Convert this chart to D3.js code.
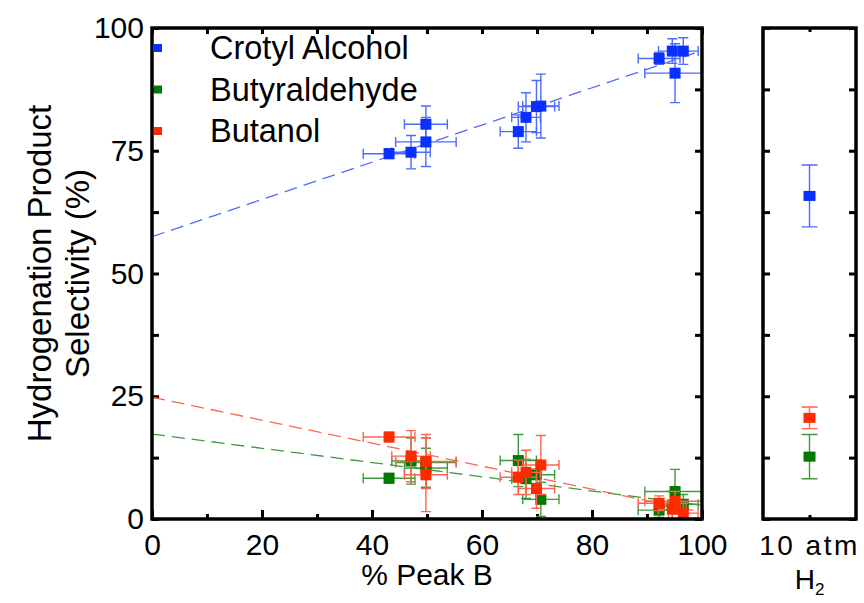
<!DOCTYPE html>
<html>
<head>
<meta charset="utf-8">
<script src="https://cdn.jsdelivr.net/npm/d3@7"></script>
<style>
  body { margin: 0; background: #fff; }
  svg { display: block; font-family: "Liberation Sans", Arial, sans-serif; }
</style>
</head>
<body>
<div id="chart"></div>
<script>
// % Peak B for each catalyst
const peakB    = [43.1, 47.1, 49.8, 49.8, 66.6, 68.0, 69.9, 70.7, 92.2, 94.6, 95.1, 96.6];
const peakBErr = [4.7, 3.5, 3.9, 5.5, 3.3, 2.6, 3.3, 3.3, 3.8, 2.5, 5.5, 2.7];

const crotyl    = [74.4, 74.7, 80.4, 76.8, 78.9, 81.8, 84.0, 84.1, 93.8, 95.3, 90.8, 95.3];
const crotylErr = [1.0, 3.4, 3.7, 5.0, 3.4, 5.0, 5.3, 6.5, 1.2, 2.5, 6.0, 2.7];
const butyr     = [8.3, 11.8, 10.4, 11.5, 11.9, 8.2, 9.0, 4.0, 1.8, 2.6, 5.6, 3.0];
const butyrErr  = [1.0, 4.7, 4.0, 5.0, 5.3, 4.0, 3.0, 3.5, 1.5, 3.0, 4.5, 2.0];
const butanol   = [16.7, 12.8, 9.0, 11.7, 8.5, 9.5, 6.2, 11.0, 3.2, 2.0, 3.6, 1.2];
const butanolErr= [1.0, 5.2, 7.5, 5.5, 3.5, 4.5, 4.0, 6.0, 1.5, 2.0, 2.0, 2.0];

// linear fits: value at 0 and 100 % Peak B
const fitX = [0, 100];
const crotylFit  = [57.5, 95.4];
const butyrFit   = [17.3, 2.8];
const butanolFit = [24.8, 1.4];

// 10 atm H2 panel
const atmLabel = "10 atm";
const atmCrotyl = [65.8, 6.3];
const atmButyr  = [12.7, 4.5];
const atmButanol= [20.6, 2.2];

const xTicks = [0, 20, 40, 60, 80, 100];
const xMinor = [10, 30, 50, 70, 90];
const yTicks = [0, 25, 50, 75, 100];
const yMinor = [12.5, 37.5, 62.5, 87.5];

const series = [
  { name: "Crotyl Alcohol", y: crotyl, err: crotylErr, fit: crotylFit, atm: atmCrotyl, color: "#0a30ff", light: "#4d6bff" },
  { name: "Butyraldehyde", y: butyr, err: butyrErr, fit: butyrFit, atm: atmButyr, color: "#007a00", light: "#3f9a3f" },
  { name: "Butanol", y: butanol, err: butanolErr, fit: butanolFit, atm: atmButanol, color: "#ff2a00", light: "#ff6450" }
];

const width = 864, height = 603;
const plot = { left: 152, right: 702, top: 28, bottom: 519 };
const panel = { left: 763, right: 856 };

const x = d3.scaleLinear().domain([0, 100]).range([plot.left, plot.right]);
const y = d3.scaleLinear().domain([0, 100]).range([plot.bottom, plot.top]);
const xr = d3.scalePoint().domain([atmLabel]).range([panel.left, panel.right]).padding(0.5);

const svg = d3.select("#chart").append("svg")
  .attr("width", width).attr("height", height);

svg.append("clipPath").attr("id", "clip")
  .append("rect")
  .attr("x", plot.left).attr("y", plot.top)
  .attr("width", plot.right - plot.left).attr("height", plot.bottom - plot.top);

function styleAxis(g) {
  g.select(".domain").remove();
  g.selectAll(".tick line").attr("stroke", "#000").attr("stroke-width", 3);
  g.selectAll(".tick text").attr("font-size", 30).attr("fill", "#000")
    .attr("font-family", "Liberation Sans, Arial, sans-serif");
}

// main plot axes (inward ticks on all four sides)
svg.append("g").attr("transform", `translate(0,${plot.bottom})`)
  .call(d3.axisBottom(x).tickValues(xTicks).tickSizeInner(-9).tickPadding(15))
  .call(styleAxis);
svg.append("g").attr("transform", `translate(0,${plot.bottom})`)
  .call(d3.axisBottom(x).tickValues(xMinor).tickSizeInner(-5).tickFormat(""))
  .call(styleAxis);
svg.append("g").attr("transform", `translate(0,${plot.top})`)
  .call(d3.axisTop(x).tickValues(xTicks.concat(xMinor)).tickSizeInner(-6).tickFormat(""))
  .call(styleAxis);
svg.append("g").attr("transform", `translate(${plot.left},0)`)
  .call(d3.axisLeft(y).tickValues(yTicks).tickSizeInner(-7).tickPadding(8))
  .call(styleAxis);
svg.append("g").attr("transform", `translate(${plot.left},0)`)
  .call(d3.axisLeft(y).tickValues(yMinor).tickSizeInner(-7).tickFormat(""))
  .call(styleAxis);
svg.append("g").attr("transform", `translate(${plot.right},0)`)
  .call(d3.axisRight(y).tickValues(yTicks.concat(yMinor)).tickSizeInner(-7).tickFormat(""))
  .call(styleAxis);

// fit lines
const fits = svg.append("g").attr("clip-path", "url(#clip)");
series.forEach(s => {
  fits.append("line")
    .attr("x1", x(fitX[0])).attr("y1", y(s.fit[0]))
    .attr("x2", x(fitX[1])).attr("y2", y(s.fit[1]))
    .attr("stroke", s.light).attr("stroke-width", 1.3)
    .attr("stroke-dasharray", "13,7");
});

// error bars + markers
const data = svg.append("g").attr("clip-path", "url(#clip)");
const cap = 5, half = 5.5;
series.forEach(s => {
  const pts = peakB.map((px, i) => ({ x: px, xe: peakBErr[i], y: s.y[i], ye: s.err[i] }));
  const g = data.append("g").attr("stroke", s.light).attr("stroke-width", 1.4).attr("fill", "none");
  pts.forEach(d => {
    const cx = x(d.x), cy = y(d.y);
    const x0 = x(d.x - d.xe), x1 = x(d.x + d.xe);
    const y0 = y(d.y - d.ye), y1 = y(d.y + d.ye);
    g.append("path").attr("d",
      `M${x0},${cy}H${x1}M${x0},${cy - cap}V${cy + cap}M${x1},${cy - cap}V${cy + cap}` +
      `M${cx},${y0}V${y1}M${cx - cap},${y0}H${cx + cap}M${cx - cap},${y1}H${cx + cap}`);
  });
  data.append("g").selectAll("rect").data(pts).join("rect")
    .attr("x", d => x(d.x) - half).attr("y", d => y(d.y) - half)
    .attr("width", half * 2).attr("height", half * 2)
    .attr("fill", s.color);
});

// frame
svg.append("rect")
  .attr("x", plot.left).attr("y", plot.top)
  .attr("width", plot.right - plot.left).attr("height", plot.bottom - plot.top)
  .attr("fill", "none").attr("stroke", "#000").attr("stroke-width", 3.5);

// legend
const legend = svg.append("g");
series.forEach((s, i) => {
  const ly = 48 + i * 41.5;
  legend.append("rect").attr("x", 154).attr("y", ly - 4).attr("width", 8).attr("height", 8).attr("fill", s.color);
  legend.append("text").attr("x", 210).attr("y", ly + 11)
    .attr("font-size", 32.5).text(s.name);
});

// axis titles
svg.append("text").attr("x", (plot.left + plot.right) / 2).attr("y", 585)
  .attr("text-anchor", "middle").attr("font-size", 30).text("% Peak B");
const yt = svg.append("text").attr("transform", `translate(0,${(plot.top + plot.bottom) / 2}) rotate(-90)`)
  .attr("text-anchor", "middle").attr("font-size", 33);
yt.append("tspan").attr("x", 0).attr("y", 51).text("Hydrogenation Product");
yt.append("tspan").attr("x", 0).attr("y", 89).text("Selectivity (%)");

// right panel
const rp = svg.append("g");
rp.append("g").attr("transform", `translate(${panel.left},0)`)
  .call(d3.axisLeft(y).tickValues(yTicks.concat(yMinor)).tickSizeInner(-7).tickFormat(""))
  .call(styleAxis);
rp.append("g").attr("transform", `translate(${panel.right},0)`)
  .call(d3.axisRight(y).tickValues(yTicks.concat(yMinor)).tickSizeInner(-7).tickFormat(""))
  .call(styleAxis);
rp.append("g").attr("transform", `translate(0,${plot.bottom})`)
  .call(d3.axisBottom(xr).tickSizeInner(-4).tickFormat(""))
  .call(styleAxis);
rp.append("g").attr("transform", `translate(0,${plot.top})`)
  .call(d3.axisTop(xr).tickSizeInner(-4).tickFormat(""))
  .call(styleAxis);

series.forEach(s => {
  const cx = xr(atmLabel), cy = y(s.atm[0]);
  const y0 = y(s.atm[0] - s.atm[1]), y1 = y(s.atm[0] + s.atm[1]);
  rp.append("path")
    .attr("d", `M${cx},${y0}V${y1}M${cx - 8},${y0}H${cx + 8}M${cx - 8},${y1}H${cx + 8}`)
    .attr("stroke", s.light).attr("stroke-width", 1.4).attr("fill", "none");
  rp.append("rect").attr("x", cx - 6).attr("y", cy - 5).attr("width", 12).attr("height", 10)
    .attr("fill", s.color);
});

rp.append("rect")
  .attr("x", panel.left).attr("y", plot.top)
  .attr("width", panel.right - panel.left).attr("height", plot.bottom - plot.top)
  .attr("fill", "none").attr("stroke", "#000").attr("stroke-width", 3.5);

rp.append("text").attr("x", xr(atmLabel)).attr("y", 555)
  .attr("text-anchor", "middle").attr("font-size", 28).attr("letter-spacing", 2.5).text(atmLabel);
const h2 = rp.append("text").attr("x", xr(atmLabel)).attr("y", 589)
  .attr("text-anchor", "middle").attr("font-size", 28);
h2.append("tspan").text("H");
h2.append("tspan").attr("font-size", 17).attr("dy", 6).text("2");
</script>
</body>
</html>
